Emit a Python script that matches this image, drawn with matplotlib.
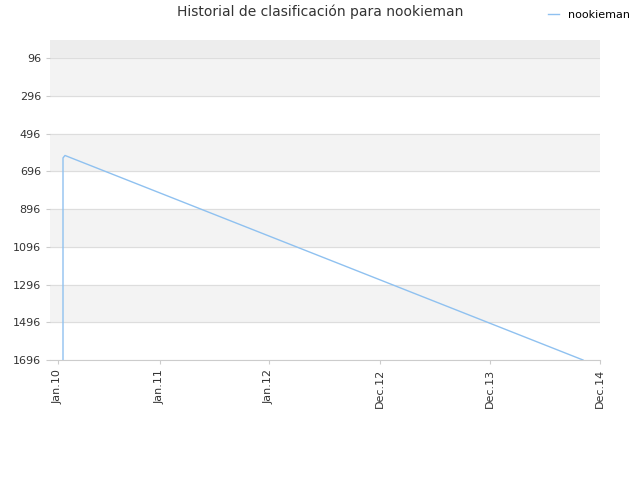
import matplotlib
matplotlib.use("Agg")
import matplotlib.pyplot as plt

tick_labels = ["Jan.10", "Jan.11", "Jan.12", "Dec.12", "Dec.13", "Dec.14"]
tick_pos = [0, 102, 211, 322, 432, 542]
xs = [5, 5, 5, 7, 525]
ranks = [1696, 760, 625, 612, 1696]
yticks = [96, 296, 496, 696, 896, 1096, 1296, 1496, 1696]

fig = plt.figure(figsize=(6.4, 4.8), dpi=100)
ax = fig.add_axes([50/640, 1-360/480, 550/640, 320/480])
ax.set_xlim(-8, 542)
ax.set_ylim(1696, 0)
ax.axhspan(0, 96, color="#ededed", zorder=0)
for i in range(len(yticks)-1):
    if i % 2 == 0:
        ax.axhspan(yticks[i], yticks[i+1], color="#f3f3f3", zorder=0)
for y in yticks:
    ax.axhline(y, color="#dddddd", lw=0.8, zorder=1)
ax.plot(xs, ranks, color="#8fc1f0", lw=1, label="nookieman", zorder=3)
ax.set_yticks(yticks)
ax.set_yticklabels([str(v) for v in yticks], fontsize=8, color="#333333")
ax.set_xticks(tick_pos)
ax.set_xticklabels(tick_labels, rotation=90, fontsize=8, color="#333333")
for s in ["top", "right", "left"]:
    ax.spines[s].set_visible(False)
ax.spines["bottom"].set_color("#cccccc")
ax.tick_params(length=3, color="#cccccc")
fig.text(0.5, 1-12/480, "Historial de clasificación para nookieman", ha="center", va="center", fontsize=10, color="#333333")
fig.legend(loc="upper right", bbox_to_anchor=(1.0, 1.0), frameon=False, fontsize=8, handlelength=1)
fig.savefig("out.png", dpi=100)
